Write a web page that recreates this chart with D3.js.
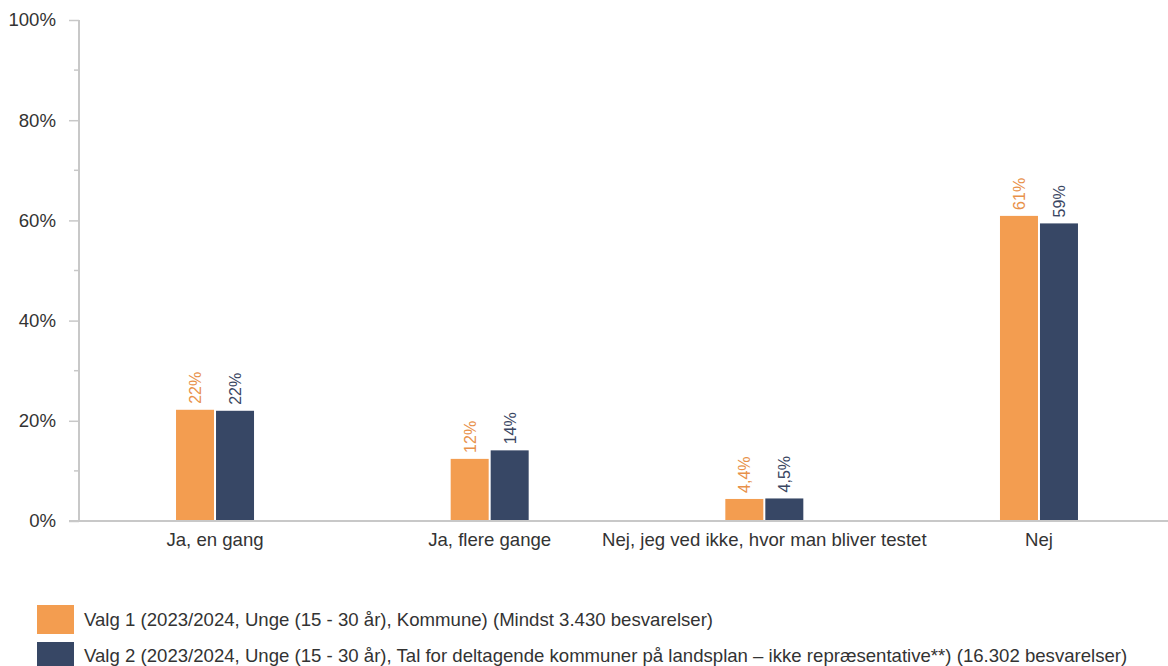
<!DOCTYPE html>
<html><head><meta charset="utf-8">
<script src="https://cdn.jsdelivr.net/npm/d3@7"></script>
<style>body{margin:0;background:#fff}svg{display:block;font-family:"Liberation Sans",Arial,sans-serif}</style>
</head><body><svg id="c" width="1168" height="666"></svg>
<script>
const categories = ["Ja, en gang", "Ja, flere gange", "Nej, jeg ved ikke, hvor man bliver testet", "Nej"];
const seriesNames = [
  "Valg 1 (2023/2024, Unge (15 - 30 år), Kommune) (Mindst 3.430 besvarelser)",
  "Valg 2 (2023/2024, Unge (15 - 30 år), Tal for deltagende kommuner på landsplan – ikke repræsentative**) (16.302 besvarelser)"
];
const valg1 = [22.2, 12.4, 4.4, 60.9];
const valg2 = [22.0, 14.1, 4.5, 59.4];
const valg1Labels = ["22%", "12%", "4,4%", "61%"];
const valg2Labels = ["22%", "14%", "4,5%", "59%"];
const yTicks = [0, 20, 40, 60, 80, 100];
const yMinorTicks = [10, 30, 50, 70, 90];
const colors = ["#F39D50", "#374765"];
const labelColors = ["#E8914A", "#3A4662"];

const svg = d3.select("#c");
const x0 = 79, yTop = 20, yBot = 521;
const x = d3.scaleBand().domain(categories).range([77.7, 1176.3]);
const y = d3.scaleLinear().domain([0, 100]).range([yBot, yTop]);
const barW = 38, gap = 2;
const fs = "18.6px";

// minor ticks
svg.append("g").selectAll("line").data(yMinorTicks).join("line")
  .attr("x1", x0 - 5).attr("x2", x0).attr("y1", d => y(d)).attr("y2", d => y(d))
  .attr("stroke", "#c8c8c8").attr("stroke-width", 1.5);

const yAxis = d3.axisLeft(y).tickValues(yTicks).tickFormat(d => d + "%").tickSize(10).tickPadding(13);
const gy = svg.append("g").attr("transform", `translate(${x0},0)`).call(yAxis);
gy.select(".domain").remove();
gy.selectAll(".tick line").attr("stroke", "#c8c8c8").attr("stroke-width", 1.5);
gy.selectAll(".tick text").attr("fill", "#333").style("font-size", fs).style("font-family", "Liberation Sans, Arial, sans-serif");
svg.append("line").attr("x1", x0).attr("x2", x0).attr("y1", yTop).attr("y2", yBot)
  .attr("stroke", "#c8c8c8").attr("stroke-width", 2);

// bars
const series = [valg1, valg2];
const labels = [valg1Labels, valg2Labels];
series.forEach((vals, si) => {
  const g = svg.append("g");
  const cx = c => x(c) + x.bandwidth() / 2;
  const bx = c => si === 0 ? cx(c) - gap / 2 - barW : cx(c) + gap / 2;
  g.selectAll("rect").data(categories).join("rect")
    .attr("x", c => bx(c)).attr("width", barW)
    .attr("y", (c, i) => y(vals[i])).attr("height", (c, i) => yBot - y(vals[i]))
    .attr("fill", colors[si]);
  g.selectAll("text").data(categories).join("text")
    .attr("transform", (c, i) => `translate(${bx(c) + barW / 2 + 6},${y(vals[i]) - 6}) rotate(-90)`)
    .attr("text-anchor", "start")
    .attr("fill", labelColors[si]).style("font-size", "16px")
    .text((c, i) => labels[si][i]);
});

// x axis
const xAxis = d3.axisBottom(x).tickSize(0).tickPadding(12);
const gx = svg.append("g").attr("transform", `translate(0,${yBot})`).call(xAxis);
gx.select(".domain").remove();
gx.selectAll(".tick text").attr("fill", "#333").style("font-size", fs).style("font-family", "Liberation Sans, Arial, sans-serif");
svg.append("line").attr("x1", x0 - 10).attr("x2", 1168).attr("y1", yBot).attr("y2", yBot)
  .attr("stroke", "#c8c8c8").attr("stroke-width", 2);

// legend
const lg = svg.append("g");
seriesNames.forEach((n, i) => {
  const yy = 605 + i * 37;
  lg.append("rect").attr("x", 37).attr("y", yy).attr("width", 37).attr("height", 29).attr("fill", colors[i]);
  lg.append("text").attr("x", 84).attr("y", 626 + i * 36).attr("fill", "#333").style("font-size", fs).text(n);
});
</script></body></html>
